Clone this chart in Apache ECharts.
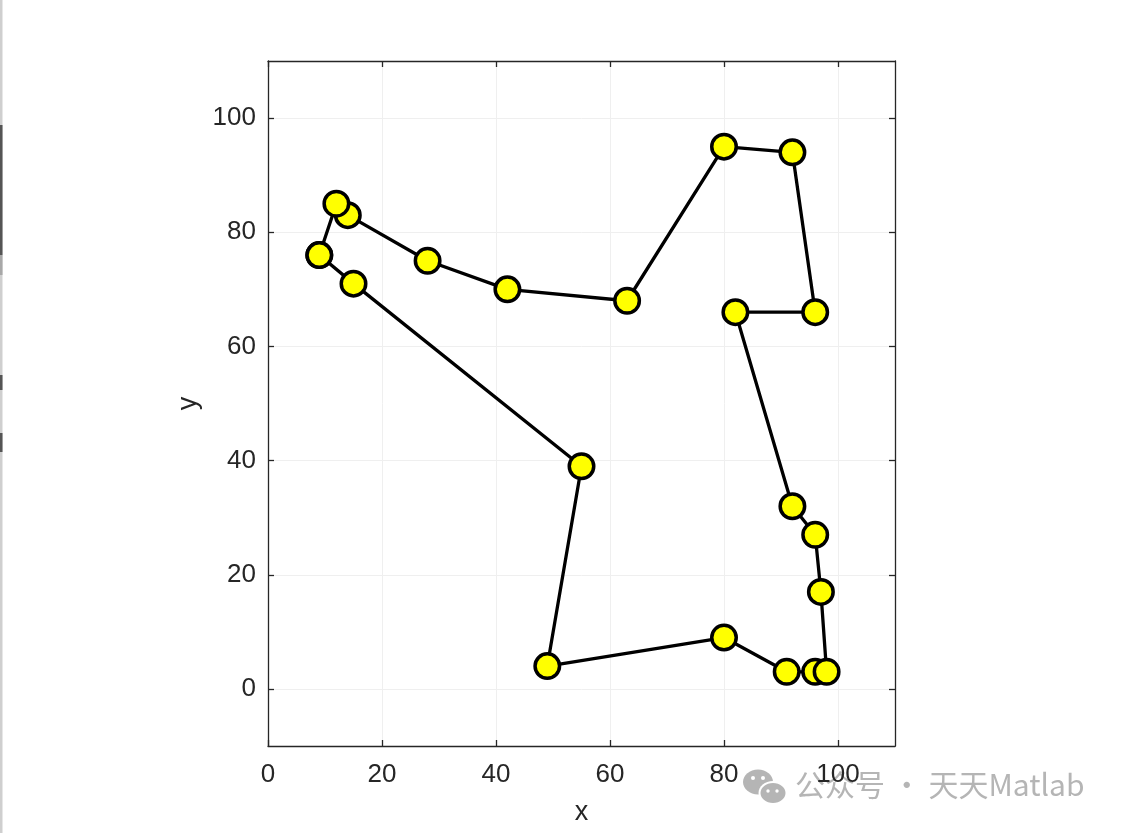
<!DOCTYPE html>
<html>
<head>
<meta charset="utf-8">
<script src="https://cdn.jsdelivr.net/npm/echarts@6/dist/echarts.min.js"></script>
<style>html,body{margin:0;padding:0;background:#fff;}#c{width:1121px;height:833px;}</style>
</head>
<body>
<div id="c"></div>
<script>
// Tour order (closed loop)
const xs = [9, 15, 55, 49, 80, 91, 96, 98, 97, 96, 92, 82, 96, 92, 80, 63, 42, 28, 14, 12, 9];
const ys = [76, 71, 39, 4, 9, 3, 3, 3, 17, 27, 32, 66, 66, 94, 95, 68, 70, 75, 83, 85, 76];
const xTicks = [0, 20, 40, 60, 80, 100];
const yTicks = [0, 20, 40, 60, 80, 100];

const pts = xs.map((x, i) => [x, ys[i]]);
const frame = '#262626';
const font = 'Liberation Sans';

const chart = echarts.init(document.getElementById('c'), null, {renderer: 'canvas'});
const baseAxis = {
  type: 'value',
  axisLine: {show: true, onZero: false, lineStyle: {color: frame, width: 1.3}},
  axisTick: {show: true, inside: true, length: 6, lineStyle: {color: frame, width: 1.3}},
  splitLine: {show: false}
};
chart.setOption({
  animation: false,
  backgroundColor: '#ffffff',
  grid: {left: 268, top: 61, width: 627, height: 685, containLabel: false},
  xAxis: [
    Object.assign({}, baseAxis, {
      position: 'bottom', min: 0, max: 110, interval: 20,
      axisTick: {show: true, inside: true, length: 6, customValues: xTicks, lineStyle: {color: frame, width: 1.3}},
      axisLabel: {show: true, customValues: xTicks, margin: 16, color: frame, fontSize: 26, fontFamily: font},
      splitLine: {show: true, lineStyle: {color: '#efefef', width: 1}},
      name: 'x', nameLocation: 'middle', nameGap: 53,
      nameTextStyle: {color: frame, fontSize: 27, fontFamily: font}
    }),
    Object.assign({}, baseAxis, {
      position: 'top', min: 0, max: 110, interval: 20,
      axisTick: {show: true, inside: true, length: 6, customValues: xTicks, lineStyle: {color: frame, width: 1.3}},
      axisLabel: {show: false}
    })
  ],
  yAxis: [
    Object.assign({}, baseAxis, {
      position: 'left', min: -10, max: 110,
      axisTick: {show: true, inside: true, length: 6, customValues: yTicks, lineStyle: {color: frame, width: 1.3}},
      axisLabel: {show: true, customValues: yTicks, margin: 12, color: frame, fontSize: 26, fontFamily: font},
      splitLine: {show: true, lineStyle: {color: '#efefef', width: 1}},
      name: 'y', nameLocation: 'middle', nameGap: 66, nameRotate: 90,
      nameTextStyle: {color: frame, fontSize: 27, fontFamily: font}
    }),
    Object.assign({}, baseAxis, {
      position: 'right', min: -10, max: 110,
      axisTick: {show: true, inside: true, length: 6, customValues: yTicks, lineStyle: {color: frame, width: 1.3}},
      axisLabel: {show: false}
    })
  ],
  series: [{
    type: 'line',
    data: pts,
    xAxisIndex: 0, yAxisIndex: 0,
    lineStyle: {color: '#000000', width: 3.3},
    symbol: 'circle',
    symbolSize: 24.5,
    showAllSymbol: true,
    itemStyle: {color: '#ffff00', borderColor: '#000000', borderWidth: 3.5},
    emphasis: {disabled: true},
    z: 3
  }],
  graphic: [
    // left window edge
    {type: 'rect', shape: {x: 0, y: 0, width: 2.5, height: 833}, style: {fill: '#cfcfcf'}, z: -10},
    {type: 'rect', shape: {x: 0, y: 125, width: 2.5, height: 130}, style: {fill: '#555555'}, z: -9},
    {type: 'rect', shape: {x: 0, y: 255, width: 2.5, height: 20}, style: {fill: '#a8a8a8'}, z: -9},
    {type: 'rect', shape: {x: 0, y: 375, width: 2.5, height: 15}, style: {fill: '#555555'}, z: -9},
    {type: 'rect', shape: {x: 0, y: 433, width: 2.5, height: 19}, style: {fill: '#555555'}, z: -9},
    // watermark icon
    {type: 'ellipse', shape: {cx: 758, cy: 782, rx: 15, ry: 12.5}, style: {fill: '#b5b5b5'}, z: -5},
    {type: 'ellipse', shape: {cx: 773, cy: 793, rx: 14.5, ry: 12}, style: {fill: '#ffffff'}, z: -4},
    {type: 'ellipse', shape: {cx: 773, cy: 793, rx: 12.5, ry: 10}, style: {fill: '#b5b5b5'}, z: -3},
    {type: 'circle', shape: {cx: 753, cy: 778, r: 2}, style: {fill: '#ffffff'}, z: -2},
    {type: 'circle', shape: {cx: 763, cy: 778, r: 2}, style: {fill: '#ffffff'}, z: -2},
    {type: 'circle', shape: {cx: 768, cy: 791, r: 1.7}, style: {fill: '#ffffff'}, z: -2},
    {type: 'circle', shape: {cx: 777, cy: 791, r: 1.7}, style: {fill: '#ffffff'}, z: -2},
    {type: 'text', left: 795, top: 770, z: -5,
     style: {text: '公众号 · 天天Matlab', fill: '#b5b5b5', fontSize: 30, fontFamily: 'Noto Sans CJK SC'}}
  ]
});
</script>
</body>
</html>
